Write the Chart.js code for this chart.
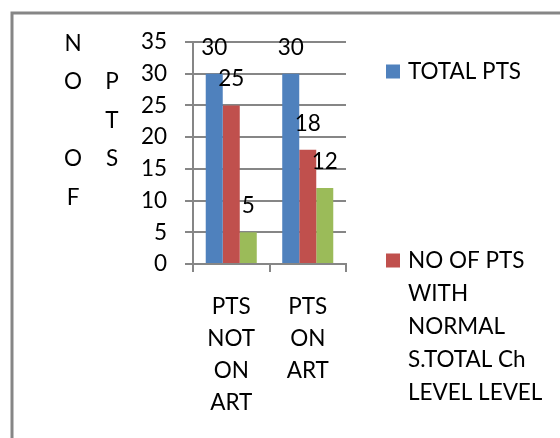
<!DOCTYPE html>
<html>
<head>
<meta charset="utf-8">
<script src="https://cdn.jsdelivr.net/npm/chart.js@4.4.1/dist/chart.umd.min.js"></script>
<style>
  html, body { margin: 0; padding: 0; background: #ffffff; }
  #wrap { position: relative; width: 560px; height: 438px; }
  canvas { display: block; }
</style>
</head>
<body>
<div id="wrap"><canvas id="c" width="560" height="438"></canvas></div>
<script>
// Categories (multi-line labels under each group)
const categories = [
  ['PTS', 'NOT', 'ON', 'ART'],
  ['PTS', 'ON', 'ART']
];

// Series
const seriesNames = [
  'TOTAL PTS',
  'NO OF PTS WITH NORMAL S.TOTAL Ch LEVEL LEVEL',
  'NO OF PTS WITH RAISED S.TOTAL Ch LEVEL'
];
const totalPts = [30, 30];
const normalLevelPts = [25, 18];
const raisedLevelPts = [5, 12];

// Axis
const yTicks = [0, 5, 10, 15, 20, 25, 30, 35];
const yTitle = 'NO OF PTS';

const FONT = 'Lato, Carlito, Calibri, sans-serif';
const FONT_SIZE = 22.5;
const GRID = '#868686';
const COLORS = ['#4F81BD', '#C0504D', '#9BBB59'];

// Value labels above each bar
const valueLabels = {
  id: 'valueLabels',
  afterDatasetsDraw(chart) {
    const ctx = chart.ctx;
    ctx.save();
    ctx.font = FONT_SIZE + 'px ' + FONT;
    ctx.fillStyle = '#000';
    ctx.textAlign = 'center';
    ctx.textBaseline = 'alphabetic';
    chart.data.datasets.forEach((ds, i) => {
      chart.getDatasetMeta(i).data.forEach((bar, j) => {
        ctx.fillText(String(ds.data[j]), bar.x, bar.y - 19);
      });
    });
    ctx.restore();
  }
};

// Stacked (one letter per row) axis title, wrapping into columns
const stackedTitle = {
  id: 'stackedTitle',
  afterDraw(chart) {
    const ctx = chart.ctx;
    const maxRows = 5, rowH = 38.5, top = 43.5;
    const colX = [73, 112];
    const cols = [];
    let rest = yTitle;
    while (rest.length) {
      cols.push(rest.slice(0, maxRows));
      rest = rest.slice(maxRows).replace(/^ +/, '');
    }
    ctx.save();
    ctx.font = FONT_SIZE + 'px ' + FONT;
    ctx.fillStyle = '#000';
    ctx.textAlign = 'center';
    ctx.textBaseline = 'middle';
    cols.forEach((col, c) => {
      const off = (maxRows - col.length) / 2;
      [...col].forEach((ch, r) => {
        ctx.fillText(ch, colX[c], top + (r + off) * rowH);
      });
    });
    ctx.restore();
  }
};

// Legend on the right, labels wrapped to a fixed width
const sideLegend = {
  id: 'sideLegend',
  afterDraw(chart) {
    const ctx = chart.ctx;
    const boxX = 386, box = 14, textX = 408, maxW = 146;
    const firstY = 71.5, itemPitch = 189, lineH = 33;
    ctx.save();
    ctx.font = FONT_SIZE + 'px ' + FONT;
    ctx.textAlign = 'left';
    ctx.textBaseline = 'middle';
    chart.data.datasets.forEach((ds, i) => {
      const y = firstY + i * itemPitch;
      ctx.fillStyle = ds.backgroundColor;
      ctx.fillRect(boxX, y - box / 2, box, box);
      const words = ds.label.split(' ');
      const lines = [];
      let line = '';
      words.forEach(w => {
        const t = line ? line + ' ' + w : w;
        if (line && ctx.measureText(t).width > maxW) { lines.push(line); line = w; }
        else line = t;
      });
      if (line) lines.push(line);
      ctx.fillStyle = '#000';
      lines.forEach((l, k) => ctx.fillText(l, textX, y + k * lineH));
    });
    ctx.restore();
  }
};

// Outer frame
const frame = {
  id: 'frame',
  afterDraw(chart) {
    const ctx = chart.ctx;
    ctx.save();
    ctx.strokeStyle = GRID;
    ctx.lineWidth = 3;
    ctx.beginPath();
    ctx.moveTo(12, 440);
    ctx.lineTo(12, 13);
    ctx.lineTo(562, 13);
    ctx.stroke();
    ctx.restore();
  }
};

const data = {
  labels: categories,
  datasets: [totalPts, normalLevelPts, raisedLevelPts].map((vals, i) => ({
    label: seriesNames[i],
    data: vals,
    backgroundColor: COLORS[i],
    borderWidth: 0,
    categoryPercentage: 0.667,
    barPercentage: 1.0
  }))
};

new Chart(document.getElementById('c'), {
  type: 'bar',
  data,
  plugins: [valueLabels, stackedTitle, sideLegend, frame],
  options: {
    responsive: false,
    animation: false,
    layout: { padding: { left: 20, right: 214, top: 42, bottom: 0 } },
    plugins: { legend: { display: false }, tooltip: { enabled: false } },
    scales: {
      x: {
        grid: { drawOnChartArea: false, drawTicks: true, tickLength: 8, color: GRID, lineWidth: 2, offset: true },
        border: { display: true, color: GRID, width: 2 },
        ticks: {
          color: '#000',
          padding: 19,
          maxRotation: 0,
          font: { family: FONT, size: FONT_SIZE, lineHeight: '32px' }
        },
        afterFit(s) { s.height = 174; }
      },
      y: {
        min: yTicks[0],
        max: yTicks[yTicks.length - 1],
        afterBuildTicks(s) { s.ticks = yTicks.map(v => ({ value: v })); },
        grid: { color: GRID, lineWidth: 2, tickLength: 8 },
        border: { display: true, color: GRID, width: 2 },
        ticks: {
          color: '#000',
          padding: 18,
          font: { family: FONT, size: FONT_SIZE }
        },
        afterFit(s) { s.width = 173; }
      }
    }
  }
});
</script>
</body>
</html>
